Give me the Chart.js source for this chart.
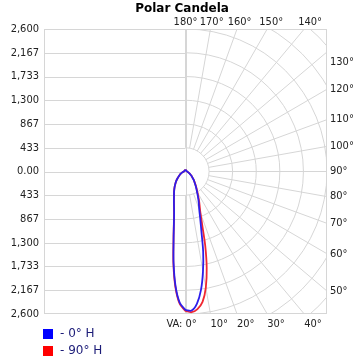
<!DOCTYPE html>
<html>
<head>
<meta charset="utf-8">
<script src="https://cdn.jsdelivr.net/npm/chart.js@4/dist/chart.umd.min.js"></script>
<style>
  html, body { margin: 0; padding: 0; background: #ffffff; }
  #wrap { width: 360px; height: 360px; }
</style>
</head>
<body>
<div id="wrap"><canvas id="c" width="360" height="360"></canvas></div>
<script>
// ---- data (candela vs vertical angle) ----
const chartTitle = 'Polar Candela';
const verticalAngles = [0, 2.5, 5, 7.5, 10, 12.5, 15, 17.5, 20, 22.5, 25, 30, 35, 40, 45, 50, 55, 60, 65, 70, 75, 80, 85, 90, 100, 110, 120, 130, 140, 150, 160, 170, 180];
// 0° H plane (right half) and its opposite 180° H plane (left half)
const cd0H   = [2525, 2540, 2420, 2180, 1850, 1500, 1130, 900, 740, 640, 560, 420, 330, 260, 210, 160, 130, 100, 80, 60, 48, 40, 35, 30, 25, 22, 20, 20, 20, 22, 25, 28, 30];
const cd180H = [2525, 2400, 2100, 1680, 1260, 985, 810, 700, 620, 555, 500, 420, 350, 290, 240, 190, 150, 120, 95, 75, 60, 48, 40, 33, 27, 24, 22, 22, 22, 24, 26, 28, 30];
// 90° H plane (right half) and its opposite 270° H plane (left half)
const cd90H  = [2545, 2570, 2520, 2400, 2150, 1800, 1400, 1020, 800, 680, 590, 440, 340, 265, 212, 162, 130, 100, 80, 60, 48, 40, 35, 30, 25, 22, 20, 20, 20, 22, 25, 28, 30];
const cd270H = [2545, 2420, 2120, 1700, 1270, 990, 812, 700, 620, 555, 500, 420, 350, 290, 240, 190, 150, 120, 95, 75, 60, 48, 40, 33, 27, 24, 22, 22, 22, 24, 26, 28, 30];

const seriesLabels = ['- 0° H', '- 90° H'];
const yTickValues = [-2600, -2166.67, -1733.33, -1300, -866.67, -433.33, 0, 433.33, 866.67, 1300, 1733.33, 2166.67, 2600];
const yTickLabels = ['2,600', '2,167', '1,733', '1,300', '867', '433', '0.00', '433', '867', '1,300', '1,733', '2,167', '2,600'];
const ringValues = [433.33, 866.67, 1300, 1733.33, 2166.67, 2600, 3033.33, 3466.67];
const angleLabels = [0, 10, 20, 30, 40, 50, 60, 70, 80, 90, 100, 110, 120, 130, 140, 150, 160, 170, 180];
const spokeAngles = [0, 10, 20, 30, 40, 50, 60, 70, 80, 90, 100, 110, 120, 130, 140, 150, 160, 170, 180];
const axisMax = 2600;

// ---- build polar loops (left plane 180°→0°, then right plane 0°→180°) ----
function loop(leftArr, rightArr) {
  const pts = [];
  for (let i = verticalAngles.length - 1; i >= 0; i--) {
    const t = verticalAngles[i] * Math.PI / 180;
    pts.push({ x: -leftArr[i] * Math.sin(t), y: -leftArr[i] * Math.cos(t) });
  }
  for (let i = 0; i < verticalAngles.length; i++) {
    const t = verticalAngles[i] * Math.PI / 180;
    pts.push({ x: rightArr[i] * Math.sin(t), y: -rightArr[i] * Math.cos(t) });
  }
  return pts;
}

const FONT = '"DejaVu Sans Condensed", "DejaVu Sans", sans-serif';
const GRID = '#d6d6d6';

const polarGrid = {
  id: 'polarGrid',
  beforeDatasetsDraw(chart) {
    const { ctx, chartArea: a, scales: { x, y } } = chart;
    const cx = x.getPixelForValue(0), cy = y.getPixelForValue(0);
    ctx.save();
    ctx.beginPath();
    ctx.rect(a.left, a.top, a.right - a.left, a.bottom - a.top);
    ctx.clip();
    ctx.strokeStyle = GRID;
    ctx.lineWidth = 1;
    // horizontal lines (left half)
    yTickValues.forEach(v => {
      const py = Math.round(y.getPixelForValue(v)) + 0.5;
      ctx.beginPath(); ctx.moveTo(a.left, py); ctx.lineTo(cx, py); ctx.stroke();
    });
    // vertical centre line
    const vx = Math.round(cx) + 0.5;
    ctx.beginPath(); ctx.moveTo(vx, a.top); ctx.lineTo(vx, a.bottom); ctx.stroke();
    // rings (right half)
    ringValues.forEach(r => {
      const rx = x.getPixelForValue(r) - cx;
      const ry = cy - y.getPixelForValue(r);
      ctx.beginPath(); ctx.ellipse(cx, cy, rx, ry, 0, -Math.PI / 2, Math.PI / 2); ctx.stroke();
    });
    // spokes
    spokeAngles.forEach(d => {
      const t = d * Math.PI / 180, s = Math.sin(t), c = Math.cos(t);
      const r0 = ringValues[0], r1 = 5000;
      ctx.beginPath();
      ctx.moveTo(x.getPixelForValue(r0 * s), y.getPixelForValue(-r0 * c));
      ctx.lineTo(x.getPixelForValue(r1 * s), y.getPixelForValue(-r1 * c));
      ctx.stroke();
    });
    ctx.restore();
    // frame
    ctx.save();
    ctx.strokeStyle = GRID;
    ctx.lineWidth = 1;
    ctx.strokeRect(Math.round(a.left) + 0.5, Math.round(a.top) + 0.5, Math.round(a.right - a.left) - 1, Math.round(a.bottom - a.top) - 1);
    ctx.restore();
  },
  afterDraw(chart) {
    const { ctx, chartArea: a, scales: { x, y } } = chart;
    ctx.save();
    // title
    ctx.font = 'bold 12px "DejaVu Sans", sans-serif';
    ctx.fillStyle = '#000000';
    ctx.textAlign = 'center';
    ctx.textBaseline = 'middle';
    ctx.fillText(chartTitle, 182, 8.5);
    // angle labels
    ctx.font = '11px ' + FONT;
    ctx.fillStyle = '#222222';
    angleLabels.forEach(d => {
      const t = d * Math.PI / 180, s = Math.sin(t), c = Math.cos(t);
      const txt = d + '°';
      if (d > 135) {
        const tt = axisMax / (-c);
        const hx = x.getPixelForValue(tt * s);
        const ly = a.top - 7;
        ctx.textAlign = 'center';
        ctx.fillText(txt, hx + (a.top - ly) * (s / -c), ly);
      } else if (d >= 45) {
        const tt = axisMax / s;
        const hy = y.getPixelForValue(-tt * c);
        ctx.textAlign = 'left';
        ctx.fillText(txt, a.right + 3, Math.max(hy, a.top + 33));
      } else {
        const tt = axisMax / c;
        const hx = x.getPixelForValue(tt * s);
        const ly = a.bottom + 10;
        ctx.textAlign = 'left';
        ctx.fillText(txt, hx, ly);
        if (d === 0) { ctx.textAlign = 'right'; ctx.fillText('VA: ', hx, ly); }
      }
    });
    // legend
    ctx.font = '12px "DejaVu Sans", sans-serif';
    ctx.textAlign = 'left';
    chart.data.datasets.forEach((ds, i) => {
      const top = 329 + i * 17;
      ctx.fillStyle = ds.legendColor;
      ctx.fillRect(43, top, 10, 10);
      ctx.fillStyle = '#1c1c78';
      ctx.fillText(ds.label, 60, top + 5);
    });
    ctx.restore();
  }
};

new Chart(document.getElementById('c'), {
  type: 'scatter',
  data: {
    datasets: [
      { label: seriesLabels[0], data: loop(cd180H, cd0H), borderColor: 'rgb(45,30,235)', legendColor: '#0000ff',
        showLine: true, pointRadius: 0, borderWidth: 1.8, tension: 0.3, fill: false, borderJoinStyle: 'round' },
      { label: seriesLabels[1], data: loop(cd270H, cd90H), borderColor: 'rgb(240,40,50)', legendColor: '#ff0000',
        showLine: true, pointRadius: 0, borderWidth: 1.8, tension: 0.3, fill: false, borderJoinStyle: 'round' }
    ]
  },
  options: {
    responsive: false,
    animation: false,
    devicePixelRatio: 1,
    layout: { padding: { left: 0, right: 33, top: 29, bottom: 46 } },
    plugins: {
      legend: { display: false },
      tooltip: { enabled: false },
      title: { display: false }
    },
    scales: {
      x: { type: 'linear', min: -axisMax, max: axisMax, display: false },
      y: {
        type: 'linear', min: -axisMax, max: axisMax,
        afterBuildTicks: s => { s.ticks = yTickValues.map(v => ({ value: v })); },
        afterFit: s => { s.width = 44; },
        grid: { display: false, drawTicks: false },
        border: { display: false },
        ticks: {
          padding: 5, color: '#222222',
          font: { family: FONT, size: 11 },
          callback: (v, i) => yTickLabels[i]
        }
      }
    }
  },
  plugins: [polarGrid]
});
</script>
</body>
</html>
